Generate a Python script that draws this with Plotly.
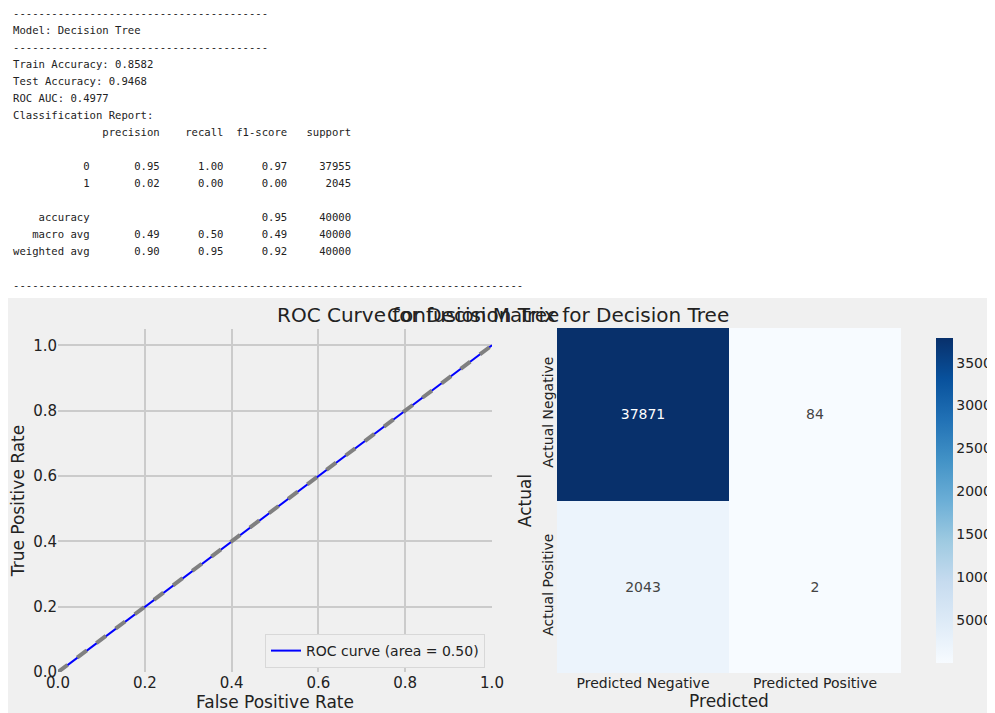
import plotly.graph_objects as go

W, H = 995, 713

report_lines = [
    "----------------------------------------",
    "Model: Decision Tree",
    "----------------------------------------",
    "Train Accuracy: 0.8582",
    "Test Accuracy: 0.9468",
    "ROC AUC: 0.4977",
    "Classification Report:",
    "              precision    recall  f1-score   support",
    "",
    "           0       0.95      1.00      0.97     37955",
    "           1       0.02      0.00      0.00      2045",
    "",
    "    accuracy                           0.95     40000",
    "   macro avg       0.49      0.50      0.49     40000",
    "weighted avg       0.90      0.95      0.92     40000",
    "",
    "-" * 80,
]

fpr = [0.0, 0.0022, 1.0]
tpr = [0.0, 0.001, 1.0]
chance = [0.0, 1.0]
roc_area = 0.50

cm_x = ["Predicted Negative", "Predicted Positive"]
cm_y = ["Actual Negative", "Actual Positive"]
cm = [[37871, 84], [2043, 2]]


def px_x(p):
    return p / W


def px_y(p):
    return 1 - p / H


fig = go.Figure()

fig.add_trace(go.Scatter(
    x=fpr, y=tpr, mode="lines", line=dict(color="blue", width=2),
    name=f"ROC curve (area = {roc_area:.2f})", xaxis="x", yaxis="y",
))
fig.add_trace(go.Scatter(
    x=chance, y=chance, mode="lines", line=dict(color="gray", width=4, dash="dash"),
    showlegend=False, xaxis="x", yaxis="y",
))

fig.add_trace(go.Heatmap(
    z=cm, x=cm_x, y=cm_y, colorscale="Blues", xaxis="x2", yaxis="y2",
    text=[[str(v) for v in row] for row in cm], texttemplate="%{text}",
    textfont=dict(size=14), xgap=0, ygap=0,
    colorbar=dict(x=px_x(918), xanchor="left", y=px_y(665), yanchor="bottom",
                  len=345 / H, thickness=17, outlinewidth=0, tickformat="d",
                  tickvals=[5000, 10000, 15000, 20000, 25000, 30000, 35000],
                  tickfont=dict(size=14, color="#222")),
    showscale=True,
))

axis_font = dict(family="DejaVu Sans", size=15, color="#222")
fig.update_layout(
    width=W, height=H,
    margin=dict(l=0, r=0, t=0, b=0, autoexpand=False),
    paper_bgcolor="white", plot_bgcolor="#f0f0f0",
    font=dict(family="DejaVu Sans", color="#222"),
    xaxis=dict(domain=[px_x(50), px_x(484)], range=[0, 1.0], dtick=0.2,
               tickformat=".1f", gridcolor="#cbcbcb", gridwidth=1.5, zeroline=False,
               tickfont=axis_font, ticks="", anchor="y", automargin=False,
               title=dict(text="False Positive Rate", font=dict(size=17), standoff=4)),
    yaxis=dict(domain=[px_y(664), px_y(321)], range=[0, 1.05], dtick=0.2,
               tickformat=".1f", gridcolor="#cbcbcb", gridwidth=1.5, zeroline=False,
               tickfont=axis_font, ticks="", anchor="x", automargin=False,
               title=dict(text="True Positive Rate", font=dict(size=17), standoff=6)),
    xaxis2=dict(domain=[px_x(549), px_x(893)], anchor="y2", showgrid=False,
                tickfont=dict(size=14), ticks="", automargin=False,
                title=dict(text="Predicted", font=dict(size=17), standoff=2)),
    yaxis2=dict(domain=[px_y(665), px_y(320)], anchor="x2", showgrid=False,
                autorange="reversed", tickangle=-90, tickfont=dict(size=14), ticks="",
                automargin=False,
                title=dict(text="Actual", font=dict(size=17), standoff=4)),
    legend=dict(x=px_x(477), xanchor="right", y=px_y(660), yanchor="bottom",
                bgcolor="#f0f0f0", bordercolor="#d8d8d8", borderwidth=1,
                font=dict(size=14)),
    shapes=[dict(type="rect", xref="paper", yref="paper", x0=0, x1=1,
                 y0=0, y1=px_y(290), fillcolor="#f0f0f0", line_width=0, layer="below")],
)

annotations = []
for i, line in enumerate(report_lines):
    if not line:
        continue
    annotations.append(dict(
        text=line.replace(" ", "\u00a0"), xref="paper", yref="paper",
        x=px_x(3), y=px_y(5 + 17 * i), xanchor="left", yanchor="middle",
        showarrow=False, font=dict(family="DejaVu Sans Mono", size=10.6, color="#222"),
    ))
annotations.append(dict(text="ROC Curve for Decision Tree", xref="paper", yref="paper",
                        x=px_x(267), y=px_y(307), showarrow=False,
                        font=dict(size=20, color="#222")))
annotations.append(dict(text="Confusion Matrix for Decision Tree", xref="paper", yref="paper",
                        x=px_x(723), y=px_y(307), showarrow=False,
                        font=dict(size=20, color="#222")))
fig.update_layout(annotations=annotations)

fig.write_html("out.html")
